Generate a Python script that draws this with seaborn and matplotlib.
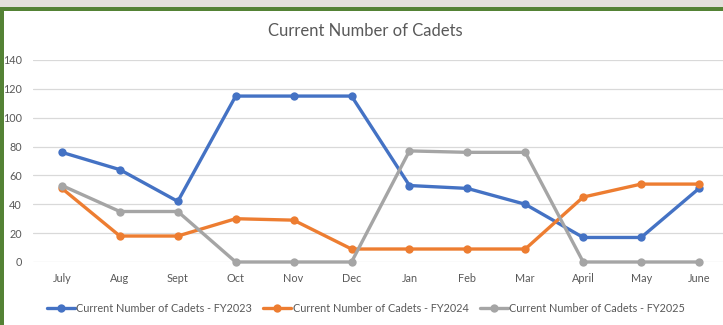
import matplotlib
matplotlib.use("Agg")
import matplotlib.pyplot as plt
from matplotlib.patches import Rectangle
import seaborn as sns

months = ["July", "Aug", "Sept", "Oct", "Nov", "Dec", "Jan", "Feb", "Mar", "April", "May", "June"]
fy2023 = [76, 64, 42, 115, 115, 115, 53, 51, 40, 17, 17, 51]
fy2024 = [51, 18, 18, 30, 29, 9, 9, 9, 9, 45, 54, 54]
fy2025 = [53, 35, 35, 0, 0, 0, 77, 76, 76, 0, 0, 0]
series_names = ["Current Number of Cadets - FY2023",
                "Current Number of Cadets - FY2024",
                "Current Number of Cadets - FY2025"]
y_ticks = [0, 20, 40, 60, 80, 100, 120, 140]
title = "Current Number of Cadets"

colors = ["#4472C4", "#ED7D31", "#A5A5A5"]
text_color = "#595959"
grid_color = "#D9D9D9"

sns.set_theme(style="white")
plt.rcParams["font.family"] = ["Lato", "DejaVu Sans"]

W, H = 723, 325
fig = plt.figure(figsize=(W / 100, H / 100), dpi=100)
fig.patch.set_facecolor("white")

# frame: grey strip at the top, green band under it, green bar on the left
fig.add_artist(Rectangle((0, 1 - 7 / H), 1, 7 / H, transform=fig.transFigure,
                         facecolor="#E3E0DB", edgecolor="none", zorder=0))
fig.add_artist(Rectangle((0, 1 - 11 / H), 1, 4 / H, transform=fig.transFigure,
                         facecolor="#548235", edgecolor="none", zorder=0))
fig.add_artist(Rectangle((0, 0), 4 / W, 1 - 7 / H, transform=fig.transFigure,
                         facecolor="#548235", edgecolor="none", zorder=0))

ax = fig.add_axes([33 / W, 63 / H, 695 / W, 202 / H])
ax.set_facecolor("none")

x = list(range(len(months)))
for name, vals, col in zip(series_names, [fy2023, fy2024, fy2025], colors):
    sns.lineplot(x=x, y=vals, ax=ax, color=col, label=name, marker="o",
                 markersize=6, markeredgewidth=0, linewidth=2.4,
                 clip_on=False, zorder=3)

ax.set_xlim(-0.5, len(months) - 0.5)
ax.set_ylim(0, 140)
ax.set_yticks(y_ticks)
ax.set_xticks(x)
ax.set_xticklabels(months)
ax.yaxis.grid(True, color=grid_color, linewidth=0.9)
ax.xaxis.grid(False)
for s in ax.spines.values():
    s.set_visible(False)
ax.tick_params(axis="both", length=0, labelsize=7.8, labelcolor=text_color)
ax.tick_params(axis="x", pad=8)
ax.tick_params(axis="y", pad=8)
ax.set_xlabel("")
ax.set_ylabel("")

fig.text(365 / W, 1 - 31 / H, title, ha="center", va="center",
         fontsize=12, color=text_color)

handles, labels = ax.get_legend_handles_labels()
ax.legend(handles, labels, loc="center", bbox_to_anchor=(366 / W, 1 - 308 / H),
          bbox_transform=fig.transFigure, ncol=3, frameon=False,
          fontsize=7.8, labelcolor=text_color, handlelength=2.6,
          handletextpad=0.15, columnspacing=1.0)

fig.savefig("out.png", dpi=100, facecolor="white")
